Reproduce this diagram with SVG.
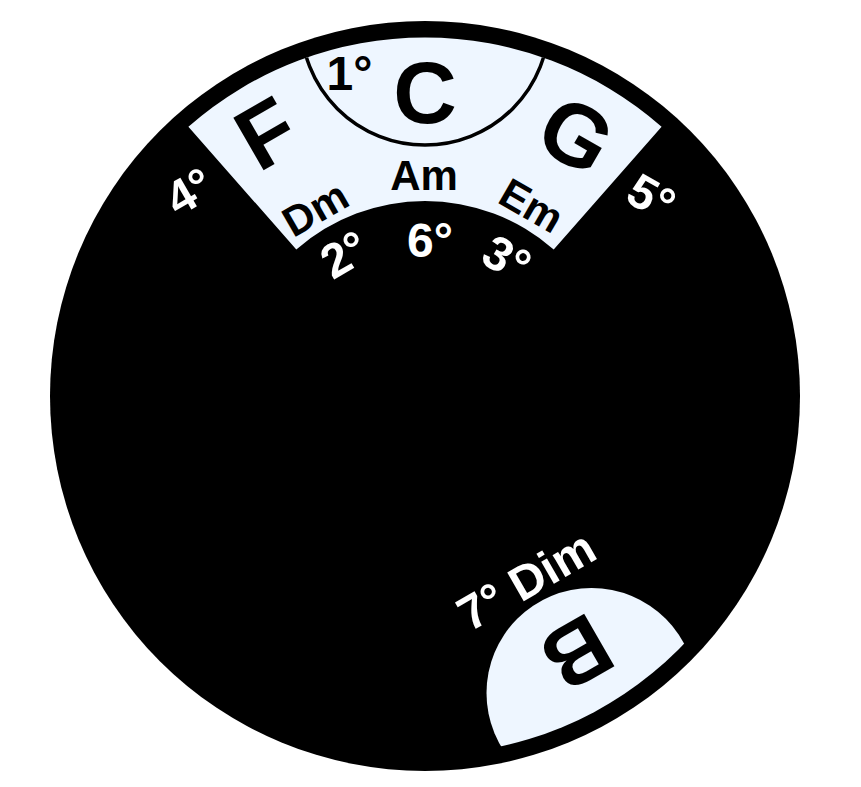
<svg xmlns="http://www.w3.org/2000/svg" width="861" height="787" viewBox="0 0 861 787">
<style>
text{font-family:"Liberation Sans",Arial,sans-serif;font-weight:bold;text-anchor:middle}
.big{font-size:88px;fill:#000}
.mid{font-size:42px;fill:#000}
.deg{font-size:48px;fill:#fff}
.degb{font-size:48px;fill:#000}
.light{fill:#EEF6FF}
</style>
<defs>
<clipPath id="inner"><circle cx="425" cy="396" r="358.5"/></clipPath>
</defs>
<rect width="861" height="787" fill="#fff"/>
<g id="wheel">
<circle cx="425" cy="396" r="375" fill="#000"/>
<path class="light" d="M188.4,126.7 A358.5,358.5 0 0 1 661.6,126.7 L553.7,249.5 A195,195 0 0 0 296.3,249.5 Z"/>
<g clip-path="url(#inner)">
<circle cx="425" cy="21" r="124" fill="none" stroke="#000" stroke-width="3.5"/>
<circle class="light" cx="591.5" cy="693" r="105"/>
</g>
</g>
<g id="major">
<text class="big" x="425" y="122.5">C</text>
<text class="big" transform="translate(266,132.5) rotate(-30)" y="31.5">F</text>
<text class="big" transform="translate(576.7,134) rotate(30)" y="31.5">G</text>
<text class="big" transform="translate(577.5,654) rotate(150)" y="31.5">B</text>
</g>
<g id="minor">
<text class="mid" x="424" y="190.3">Am</text>
<text class="mid" transform="translate(315,208.3) rotate(-30)" y="15">Dm</text>
<text class="mid" transform="translate(531.7,205) rotate(30)" y="15">Em</text>
</g>
<g id="degrees">
<text class="degb" x="349.5" y="90">1°</text>
<text class="deg" transform="translate(344,254) rotate(-30)" y="17.2">2°</text>
<text class="deg" transform="translate(430,240)" y="17.2">6°</text>
<text class="deg" transform="translate(507,258) rotate(30)" y="17.2">3°</text>
<text class="deg" transform="translate(189,191) rotate(-30)" y="17.2">4°</text>
<text class="deg" transform="translate(651.7,196.7) rotate(30)" y="17.2">5°</text>
<text class="deg" transform="translate(526,580) rotate(-30)" y="17.2">7° Dim</text>
</g>
</svg>
